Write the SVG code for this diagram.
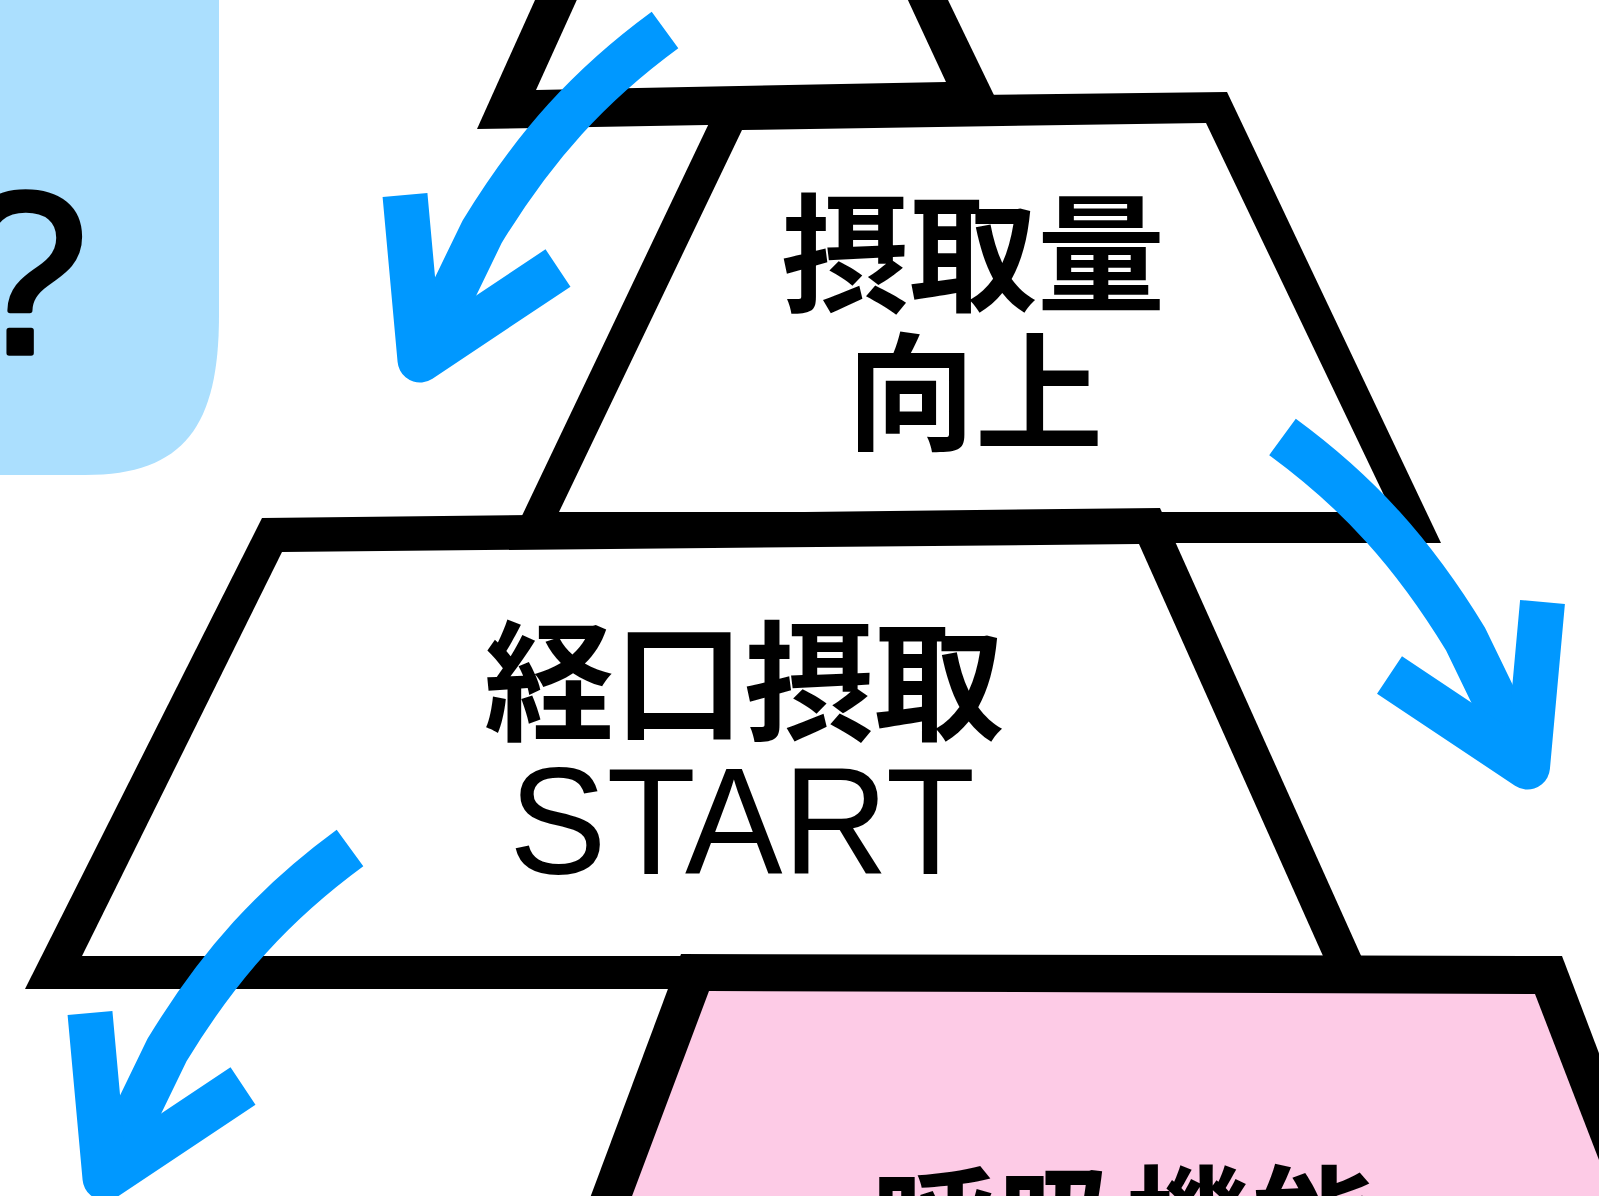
<svg xmlns="http://www.w3.org/2000/svg" xmlns:xlink="http://www.w3.org/1999/xlink" width="1599" height="1196" viewBox="0 0 1599 1196">
  <style>
    .frame { fill: #000000; }
    .white { fill: #ffffff; }
    .pink { fill: #fdcbe6; }
    .cjk { font-family: "Noto Sans CJK JP", "Noto Sans CJK SC", sans-serif; font-weight: 700; fill: #000000; text-anchor: middle; }
    .latin { font-family: "Liberation Sans", Arial, sans-serif; fill: #000000; text-anchor: middle; }
    .arrow { fill: none; stroke: #0098ff; stroke-width: 45; stroke-linecap: butt; stroke-linejoin: round; }
  </style>
  <defs>
    <g id="arrowShape">
      <path class="arrow" d="M665,30 C590,85 535,145 482,232 L420,360"/>
      <path class="arrow" d="M405,195 L420,360 L558,268"/>
    </g>
  </defs>
  <rect width="1599" height="1196" fill="#ffffff"/>

  <g id="node-question">
    <path d="M-20,-20 L219,-20 L219,315 C219,425 185,475 85,475 L-20,475 Z" fill="#abdffe"/>
    <text class="latin" x="88" y="353" font-size="230" stroke="#000000" stroke-width="5.5" stroke-linejoin="round" style="text-anchor:end">?</text>
  </g>

  <g id="node-top">
    <polygon class="frame" points="562,-60 919,-60 1006,120 477,129"/>
    <polygon class="white" points="604,-60 880,-60 946,82 536,90"/>
  </g>

  <g id="node-intake-up">
    <polygon class="frame" points="721,98 1227,92 1441,543 509,543"/>
    <polygon class="white" points="742,130 1206,123 1392,512 559,512"/>
    <text class="cjk" font-size="128" x="973" y="302">摂取量</text>
    <text class="cjk" font-size="128" x="975" y="441">向上</text>
  </g>

  <g id="node-oral-start">
    <polygon class="frame" points="262,518 1160,508 1376,989 25,989"/>
    <polygon class="white" points="282,552 1139,544 1323,956 82,956"/>
    <text class="cjk" font-size="130" x="744" y="730">経口摂取</text>
    <text class="latin" font-size="153" x="742" y="874" textLength="466" lengthAdjust="spacingAndGlyphs">START</text>
  </g>

  <g id="node-respiration">
    <polygon class="frame" points="681,954 1562,956 1693,1300 552,1300"/>
    <polygon class="pink" points="709,991 1535,994 1653,1300 593,1300"/>
    <text class="cjk" font-size="127" x="1125" y="1273">呼吸機能</text>
  </g>

  <g id="connectors">
    <use xlink:href="#arrowShape"/>
    <use xlink:href="#arrowShape" transform="translate(1947.5,407) scale(-1,1)"/>
    <use xlink:href="#arrowShape" transform="translate(-315,818)"/>
  </g>
</svg>
